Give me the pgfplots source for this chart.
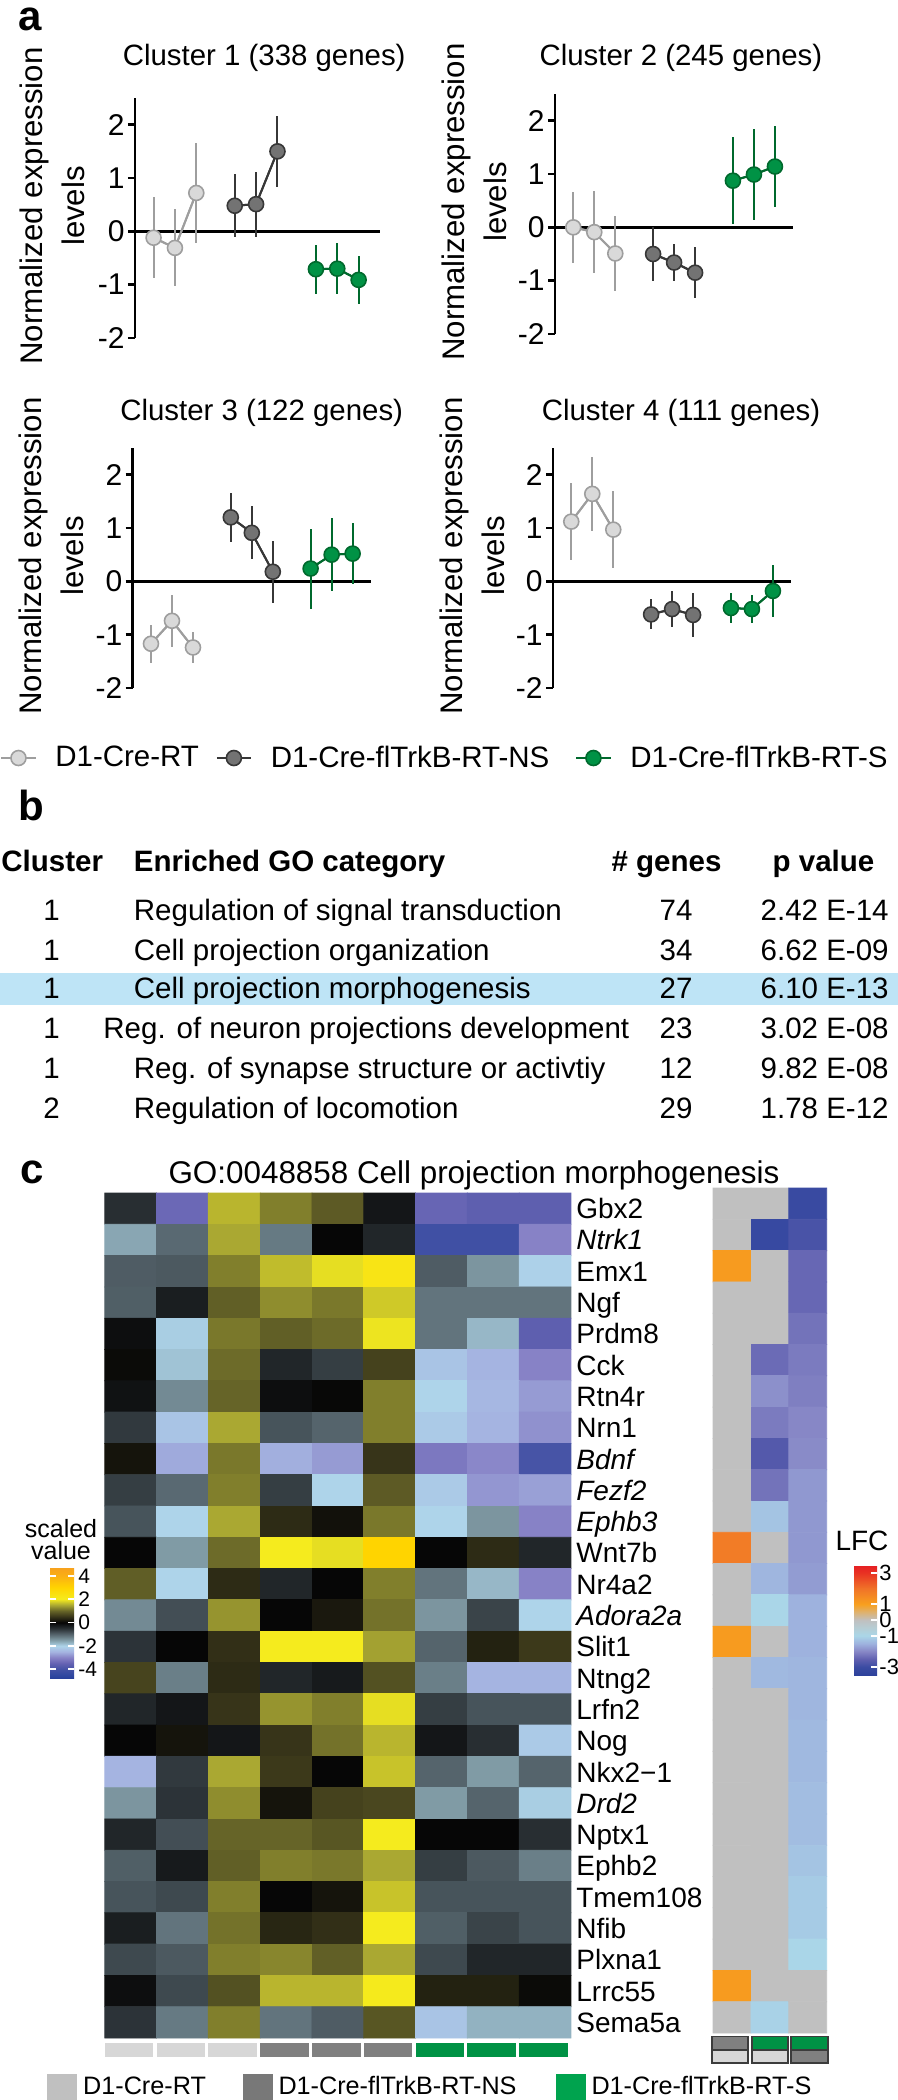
\documentclass[border=0pt]{standalone}
\usepackage{fontspec}
\setmainfont{Liberation Sans}[Ligatures=CommonOff]
\usepackage{pgfplots}
\pgfplotsset{compat=1.18}
\newcommand\fs[1]{\fontsize{#1}{#1}\selectfont}
\definecolor{ltfill}{RGB}{217,217,217}
\definecolor{ltline}{RGB}{158,158,158}
\definecolor{dkfill}{RGB}{115,115,115}
\definecolor{dkline}{RGB}{55,55,55}
\definecolor{gnfill}{RGB}{0,146,69}
\definecolor{gnline}{RGB}{0,105,45}
\definecolor{hl}{RGB}{190,228,246}
\definecolor{rtbar}{RGB}{215,215,215}
\definecolor{nsbar}{RGB}{128,128,128}
\definecolor{sbar}{RGB}{0,146,69}
\definecolor{rtleg}{RGB}{192,192,192}
\definecolor{nsleg}{RGB}{120,120,120}
\definecolor{sleg}{RGB}{0,163,78}
\definecolor{boxline}{RGB}{60,60,60}
\pgfplotsset{
 colormap={scaled}{
  rgb255(0pt)=(40,65,155)
  rgb255(1pt)=(48,72,160)
  rgb255(3pt)=(68,82,165)
  rgb255(5pt)=(100,98,178)
  rgb255(7pt)=(135,130,198)
  rgb255(9pt)=(165,180,225)
  rgb255(11pt)=(174,212,234)
  rgb255(13pt)=(128,155,165)
  rgb255(15pt)=(85,100,108)
  rgb255(17pt)=(40,46,50)
  rgb255(19pt)=(6,6,6)
  rgb255(21pt)=(55,52,25)
  rgb255(23pt)=(102,100,40)
  rgb255(25pt)=(170,168,50)
  rgb255(27pt)=(245,235,30)
  rgb255(31pt)=(255,212,0)
  rgb255(35pt)=(250,175,20)
  rgb255(38pt)=(247,160,30)
 },
 colormap={lfc}{
  rgb255(0pt)=(45,65,155)
  rgb255(1pt)=(58,75,162)
  rgb255(2pt)=(95,95,175)
  rgb255(3pt)=(135,135,198)
  rgb255(4pt)=(158,178,222)
  rgb255(5pt)=(170,214,232)
  rgb255(6pt)=(182,205,212)
  rgb255(7pt)=(192,192,192)
  rgb255(8pt)=(222,178,112)
  rgb255(9pt)=(248,160,30)
  rgb255(11pt)=(240,115,40)
  rgb255(13pt)=(232,50,35)
  rgb255(14pt)=(230,30,35)
 },
 clusterax/.style={
  scale only axis, width=119pt, height=120pt,
  xmin=-0.87, xmax=10.46, ymin=-2, ymax=2.5,
  axis y line=left, axis x line=none,
  axis line style={-, line width=1.35pt},
  ytick={-2,-1,0,1,2}, yticklabels={-2,-1,0,1,2},
  tick align=outside, major tick length=3.5pt,
  major tick style={line width=1.35pt, black},
  yticklabel style={font=\fs{15}, inner sep=1.5pt},
  ylabel={Normalized expression\\levels},
  every axis y label/.style={at={(axis description cs:-0.34,0.55)}, rotate=90, anchor=center, align=center, font=\fontsize{15.6}{21}\selectfont},
  every axis title/.style={anchor=center, font=\fs{14.7}},
  clip=false,
 },
 ebar/.style={color=#1, line width=1pt, mark=none, forget plot,
   error bars/.cd, y dir=both, y explicit, error mark=none,
   error bar style={line width=1pt, color=#1}},
 mk/.style n args={2}{color=#2, line width=1pt, mark=*, mark size=3.75pt,
   mark options={fill=#1, draw=#2, line width=0.8pt, solid}},
}
\begin{document}
\begin{tikzpicture}
\useasboundingbox (0,0) rectangle (449pt,-1050pt);
% ---------- panel labels
\node[anchor=base west, inner sep=0pt, font=\bfseries\fs{21}] at (9pt,-15pt) {a};
\node[anchor=base west, inner sep=0pt, font=\bfseries\fs{21}] at (9pt,-410pt) {b};
\node[anchor=base west, inner sep=0pt, font=\bfseries\fs{21}] at (10pt,-591.5pt) {c};

% ---------- Cluster 1
\begin{axis}[clusterax, width=121pt, at={(67.5pt,-169pt)}, anchor=south west,
  title={Cluster 1 (338 genes)}, title style={at={(0.534,1.167)}}]
\addplot[black, line width=1.35pt, forget plot] coordinates {(-0.87,0) (10.6,0)};
\addplot[ebar=ltline] coordinates {(0,-0.12) +- (0,0.76) (1,-0.31) +- (0,0.72) (2,0.72) +- (0,0.93)};
\addplot[ebar=dkline] coordinates {(3.8,0.48) +- (0,0.59) (4.8,0.51) +- (0,0.61) (5.8,1.50) +- (0,0.66)};
\addplot[ebar=gnline] coordinates {(7.6,-0.71) +- (0,0.46) (8.6,-0.70) +- (0,0.48) (9.6,-0.91) +- (0,0.45)};
\addplot[mk={ltfill}{ltline}] coordinates {(0,-0.12) (1,-0.31) (2,0.72)};
\addplot[mk={dkfill}{dkline}] coordinates {(3.8,0.48) (4.8,0.51) (5.8,1.50)};
\addplot[mk={gnfill}{gnline}] coordinates {(7.6,-0.71) (8.6,-0.70) (9.6,-0.91)};
\end{axis}

% ---------- Cluster 2
\begin{axis}[clusterax, at={(277.5pt,-167pt)}, anchor=south west,
  title={Cluster 2 (245 genes)}, title style={at={(0.529,1.15)}}]
\addplot[black, line width=1.35pt, forget plot] coordinates {(-0.87,0) (10.46,0)};
\addplot[ebar=ltline] coordinates {(0,0.0) +- (0,0.67) (1,-0.09) +- (0,0.77) (2,-0.49) +- (0,0.71)};
\addplot[ebar=dkline] coordinates {(3.8,-0.5) +- (0,0.51) (4.8,-0.66) +- (0,0.35) (5.8,-0.85) +- (0,0.48)};
\addplot[ebar=gnline] coordinates {(7.6,0.875) +- (0,0.81) (8.6,0.99) +- (0,0.86) (9.6,1.14) +- (0,0.76)};
\addplot[mk={ltfill}{ltline}] coordinates {(0,0.0) (1,-0.09) (2,-0.49)};
\addplot[mk={dkfill}{dkline}] coordinates {(3.8,-0.5) (4.8,-0.66) (5.8,-0.85)};
\addplot[mk={gnfill}{gnline}] coordinates {(7.6,0.875) (8.6,0.99) (9.6,1.14)};
\end{axis}

% ---------- Cluster 3
\begin{axis}[clusterax, at={(66.35pt,-344pt)}, anchor=south west,
  title={Cluster 3 (122 genes)}, title style={at={(0.542,1.146)}},
  legend columns=3,
  legend style={at={(-0.5576,-0.2917)}, anchor=west, draw=none, fill=none, inner sep=0pt,
    font=\fs{14.75}, nodes={inner sep=0pt},
    /tikz/column 1/.style={column sep=9.4pt},
    /tikz/column 2/.style={column sep=8.4pt},
    /tikz/column 3/.style={column sep=9.4pt},
    /tikz/column 4/.style={column sep=13pt},
    /tikz/column 5/.style={column sep=9.4pt}}]
\addplot[black, line width=1.35pt, forget plot] coordinates {(-0.87,0) (10.46,0)};
\addplot[ebar=ltline] coordinates {(0,-1.17) +- (0,0.36) (1,-0.74) +- (0,0.49) (2,-1.24) +- (0,0.29)};
\addplot[ebar=dkline] coordinates {(3.8,1.2) +- (0,0.46) (4.8,0.91) +- (0,0.5) (5.8,0.18) +- (0,0.58)};
\addplot[ebar=gnline] coordinates {(7.6,0.24) +- (0,0.75) (8.6,0.5) +- (0,0.68) (9.6,0.52) +- (0,0.57)};
\addplot[mk={ltfill}{ltline}] coordinates {(0,-1.17) (1,-0.74) (2,-1.24)};
\addplot[mk={dkfill}{dkline}] coordinates {(3.8,1.2) (4.8,0.91) (5.8,0.18)};
\addplot[mk={gnfill}{gnline}] coordinates {(7.6,0.24) (8.6,0.5) (9.6,0.52)};
\legend{D1-Cre-RT, D1-Cre-flTrkB-RT-NS, D1-Cre-flTrkB-RT-S}
\end{axis}

% ---------- Cluster 4
\begin{axis}[clusterax, at={(276.5pt,-344pt)}, anchor=south west,
  title={Cluster 4 (111 genes)}, title style={at={(0.538,1.146)}}]
\addplot[black, line width=1.35pt, forget plot] coordinates {(-0.87,0) (10.46,0)};
\addplot[ebar=ltline] coordinates {(0,1.12) +- (0,0.72) (1,1.64) +- (0,0.69) (2,0.97) +- (0,0.72)};
\addplot[ebar=dkline] coordinates {(3.8,-0.62) +- (0,0.28) (4.8,-0.52) +- (0,0.33) (5.8,-0.63) +- (0,0.41)};
\addplot[ebar=gnline] coordinates {(7.6,-0.5) +- (0,0.28) (8.6,-0.52) +- (0,0.27) (9.6,-0.18) +- (0,0.49)};
\addplot[mk={ltfill}{ltline}] coordinates {(0,1.12) (1,1.64) (2,0.97)};
\addplot[mk={dkfill}{dkline}] coordinates {(3.8,-0.62) (4.8,-0.52) (5.8,-0.63)};
\addplot[mk={gnfill}{gnline}] coordinates {(7.6,-0.5) (8.6,-0.52) (9.6,-0.18)};
\end{axis}

% ---------- panel b table
\fill[hl] (0pt,-486.5pt) rectangle (449pt,-502.5pt);
\begin{scope}[every node/.style={inner sep=0pt, font=\fs{14.75}}]
\node[anchor=base west, font=\bfseries\fs{14.75}] at (0.5pt,-435.5pt) {Cluster};
\node[anchor=base west, font=\bfseries\fs{14.75}] at (66.75pt,-435.5pt) {Enriched GO category};
\node[anchor=base, font=\bfseries\fs{14.75}] at (333.25pt,-435.5pt) {\# genes};
\node[anchor=base, font=\bfseries\fs{14.75}] at (411.75pt,-435.5pt) {p value};
\node[anchor=base] at (25.75pt,-460.25pt) {1};
\node[anchor=base west] at (66.75pt,-460.25pt) {Regulation of signal transduction};
\node[anchor=base] at (338pt,-460.25pt) {74};
\node[anchor=base east] at (444.5pt,-460.25pt) {2.42 E-14};
\node[anchor=base] at (25.75pt,-480.25pt) {1};
\node[anchor=base west] at (66.75pt,-480.25pt) {Cell projection organization};
\node[anchor=base] at (338pt,-480.25pt) {34};
\node[anchor=base east] at (444.5pt,-480.25pt) {6.62 E-09};
\node[anchor=base] at (25.75pt,-499.25pt) {1};
\node[anchor=base west] at (66.75pt,-499.25pt) {Cell projection morphogenesis};
\node[anchor=base] at (338pt,-499.25pt) {27};
\node[anchor=base east] at (444.5pt,-499.25pt) {6.10 E-13};
\node[anchor=base] at (25.75pt,-519.25pt) {1};
\node[anchor=base west] at (51.5pt,-519.25pt) {Reg. of neuron projections development};
\node[anchor=base] at (338pt,-519.25pt) {23};
\node[anchor=base east] at (444.5pt,-519.25pt) {3.02 E-08};
\node[anchor=base] at (25.75pt,-539.25pt) {1};
\node[anchor=base west] at (66.75pt,-539.25pt) {Reg. of synapse structure or activtiy};
\node[anchor=base] at (338pt,-539.25pt) {12};
\node[anchor=base east] at (444.5pt,-539.25pt) {9.82 E-08};
\node[anchor=base] at (25.75pt,-559.25pt) {2};
\node[anchor=base west] at (66.75pt,-559.25pt) {Regulation of locomotion};
\node[anchor=base] at (338pt,-559.25pt) {29};
\node[anchor=base east] at (444.5pt,-559.25pt) {1.78 E-12};
% panel c texts
\node[anchor=base, font=\fs{15.7}] at (237pt,-591.5pt) {GO:0048858 Cell projection morphogenesis};
\node[anchor=base, font=\fs{12.5}] at (30.5pt,-768.5pt) {scaled};
\node[anchor=base, font=\fs{12.5}] at (30.5pt,-779.5pt) {value};
\node[anchor=base, font=\fs{14}] at (431pt,-775pt) {LFC};
\end{scope}

% ---------- main heatmap
\begin{axis}[at={(52.4pt,-596.5pt)}, anchor=north west, scale only axis,
  width=233.1pt, height=422.5pt,
  xmin=0.5, xmax=9.5, ymin=0.5, ymax=27.5, y dir=reverse,
  axis line style={draw=none}, xtick=\empty,
  ytick={1,...,27},
  yticklabels={Gbx2,\textit{Ntrk1},Emx1,Ngf,Prdm8,Cck,Rtn4r,Nrn1,\textit{Bdnf},\textit{Fezf2},\textit{Ephb3},Wnt7b,Nr4a2,\textit{Adora2a},Slit1,Ntng2,Lrfn2,Nog,Nkx2−1,\textit{Drd2},Nptx1,Ephb2,Tmem108,Nfib,Plxna1,Lrrc55,Sema5a},
  yticklabel pos=right, major tick length=0pt, ytick style={draw=none},
  yticklabel style={font=\fs{14}, anchor=base west, yshift=-5pt, inner sep=0pt, xshift=2.5pt},
  clip=false,
  colormap name=scaled, point meta min=-4.75, point meta max=4.75,
  colorbar,
  colorbar style={
    at={(parent axis.north west)}, anchor=north west, xshift=-35.9pt, yshift=-187pt,
    scale only axis, width=12pt, height=55.5pt, y dir=normal,
    ytick={-4,-2,0,2,4}, yticklabels={-4,-2,0,2,4},
    ytick pos=both, yticklabel pos=right,
    tick align=inside, major tick length=3pt,
    major tick style={white, line width=0.9pt},
    axis line style={draw=none},
    yticklabel style={font=\fs{10.5}, inner sep=2pt, anchor=west, yshift=0pt, xshift=0pt},
  },
  legend columns=3,
  legend style={at={(-0.124,-0.058)}, anchor=west, draw=none, fill=none, inner sep=0pt,
    font=\fs{12.6}, nodes={inner sep=0pt},
    /tikz/column 1/.style={column sep=3pt},
    /tikz/column 2/.style={column sep=18.4pt},
    /tikz/column 3/.style={column sep=3pt},
    /tikz/column 4/.style={column sep=19.6pt},
    /tikz/column 5/.style={column sep=3pt}},
]
\addplot[matrix plot*, mesh/cols=9, point meta=explicit, forget plot] coordinates {
(1,1) [-0.5] (2,1) [-3.4] (3,1) [1.6] (4,1) [1.2] (5,1) [0.9] (6,1) [-0.2] (7,1) [-3.45] (8,1) [-3.6] (9,1) [-3.6]
(1,2) [-1.6] (2,2) [-1.05] (3,2) [1.5] (4,2) [-1.2] (5,2) [0] (6,2) [-0.4] (7,2) [-4.1] (8,2) [-4.1] (9,2) [-3.0]
(1,3) [-0.93] (2,3) [-0.9] (3,3) [1.2] (4,3) [1.65] (5,3) [1.9] (6,3) [2.3] (7,3) [-0.93] (8,3) [-1.45] (9,3) [-2.05]
(1,4) [-0.95] (2,4) [-0.3] (3,4) [0.95] (4,4) [1.3] (5,4) [1.15] (6,4) [1.75] (7,4) [-1.15] (8,4) [-1.15] (9,4) [-1.15]
(1,5) [-0.1] (2,5) [-1.95] (3,5) [1.15] (4,5) [0.95] (5,5) [1.05] (6,5) [1.95] (7,5) [-1.15] (8,5) [-1.75] (9,5) [-3.6]
(1,6) [0.05] (2,6) [-1.85] (3,6) [1.05] (4,6) [-0.4] (5,6) [-0.65] (6,6) [0.65] (7,6) [-2.25] (8,6) [-2.5] (9,6) [-3.0]
(1,7) [-0.15] (2,7) [-1.35] (3,7) [1.0] (4,7) [-0.1] (5,7) [0.02] (6,7) [1.2] (7,7) [-2.0] (8,7) [-2.45] (9,7) [-2.75]
(1,8) [-0.6] (2,8) [-2.25] (3,8) [1.5] (4,8) [-0.85] (5,8) [-1.0] (6,8) [1.2] (7,8) [-2.15] (8,8) [-2.5] (9,8) [-2.85]
(1,9) [0.15] (2,9) [-2.6] (3,9) [1.15] (4,9) [-2.55] (5,9) [-2.75] (6,9) [0.5] (7,9) [-3.15] (8,9) [-2.95] (9,9) [-3.95]
(1,10) [-0.65] (2,10) [-1.05] (3,10) [1.2] (4,10) [-0.65] (5,10) [-2.0] (6,10) [0.9] (7,10) [-2.15] (8,10) [-2.8] (9,10) [-2.7]
(1,11) [-0.85] (2,11) [-2.0] (3,11) [1.5] (4,11) [0.4] (5,11) [0.12] (6,11) [1.15] (7,11) [-2.0] (8,11) [-1.45] (9,11) [-3.0]
(1,12) [0] (2,12) [-1.5] (3,12) [1.05] (4,12) [2.0] (5,12) [1.9] (6,12) [3.0] (7,12) [0] (8,12) [0.4] (9,12) [-0.4]
(1,13) [0.94] (2,13) [-2.0] (3,13) [0.4] (4,13) [-0.4] (5,13) [0] (6,13) [1.2] (7,13) [-1.15] (8,13) [-1.75] (9,13) [-3.0]
(1,14) [-1.35] (2,14) [-0.8] (3,14) [1.35] (4,14) [0] (5,14) [0.2] (6,14) [1.1] (7,14) [-1.45] (8,14) [-0.7] (9,14) [-2.0]
(1,15) [-0.55] (2,15) [0] (3,15) [0.45] (4,15) [2.0] (5,15) [2.0] (6,15) [1.45] (7,15) [-1.0] (8,15) [0.3] (9,15) [0.55]
(1,16) [0.67] (2,16) [-1.25] (3,16) [0.4] (4,16) [-0.4] (5,16) [-0.25] (6,16) [0.8] (7,16) [-1.25] (8,16) [-2.5] (9,16) [-2.5]
(1,17) [-0.4] (2,17) [-0.2] (3,17) [0.5] (4,17) [1.35] (5,17) [1.2] (6,17) [1.9] (7,17) [-0.65] (8,17) [-0.85] (9,17) [-0.85]
(1,18) [0] (2,18) [0.15] (3,18) [-0.2] (4,18) [0.5] (5,18) [1.1] (6,18) [1.6] (7,18) [-0.2] (8,18) [-0.5] (9,18) [-2.15]
(1,19) [-2.5] (2,19) [-0.6] (3,19) [1.5] (4,19) [0.55] (5,19) [0] (6,19) [1.7] (7,19) [-1.0] (8,19) [-1.5] (9,19) [-1.0]
(1,20) [-1.45] (2,20) [-0.55] (3,20) [1.3] (4,20) [0.15] (5,20) [0.65] (6,20) [0.7] (7,20) [-1.5] (8,20) [-1.0] (9,20) [-1.95]
(1,21) [-0.4] (2,21) [-0.8] (3,21) [1.0] (4,21) [1.0] (5,21) [0.85] (6,21) [2.0] (7,21) [0] (8,21) [0] (9,21) [-0.5]
(1,22) [-0.95] (2,22) [-0.25] (3,22) [0.95] (4,22) [1.2] (5,22) [1.15] (6,22) [1.5] (7,22) [-0.65] (8,22) [-0.9] (9,22) [-1.25]
(1,23) [-0.85] (2,23) [-0.75] (3,23) [1.2] (4,23) [0] (5,23) [0.15] (6,23) [1.7] (7,23) [-0.85] (8,23) [-0.85] (9,23) [-0.85]
(1,24) [-0.3] (2,24) [-1.15] (3,24) [1.1] (4,24) [0.35] (5,24) [0.45] (6,24) [2.0] (7,24) [-0.95] (8,24) [-0.7] (9,24) [-0.85]
(1,25) [-0.75] (2,25) [-0.9] (3,25) [1.2] (4,25) [1.25] (5,25) [0.95] (6,25) [1.5] (7,25) [-0.75] (8,25) [-0.4] (9,25) [-0.4]
(1,26) [-0.1] (2,26) [-0.75] (3,26) [0.8] (4,26) [1.6] (5,26) [1.6] (6,26) [2.05] (7,26) [0.3] (8,26) [0.3] (9,26) [0.05]
(1,27) [-0.55] (2,27) [-1.2] (3,27) [1.2] (4,27) [-1.15] (5,27) [-0.93] (6,27) [0.85] (7,27) [-2.25] (8,27) [-1.7] (9,27) [-1.7]
};
\fill[rtbar] (axis cs:0.5,27.66) rectangle (axis cs:1.44,28.1);
\fill[rtbar] (axis cs:1.5,27.66) rectangle (axis cs:2.44,28.1);
\fill[rtbar] (axis cs:2.5,27.66) rectangle (axis cs:3.44,28.1);
\fill[nsbar] (axis cs:3.5,27.66) rectangle (axis cs:4.44,28.1);
\fill[nsbar] (axis cs:4.5,27.66) rectangle (axis cs:5.44,28.1);
\fill[nsbar] (axis cs:5.5,27.66) rectangle (axis cs:6.44,28.1);
\fill[sbar] (axis cs:6.5,27.66) rectangle (axis cs:7.44,28.1);
\fill[sbar] (axis cs:7.5,27.66) rectangle (axis cs:8.44,28.1);
\fill[sbar] (axis cs:8.5,27.66) rectangle (axis cs:9.44,28.1);
\addlegendimage{legend image code/.code={\fill[rtleg] (0pt,-6.25pt) rectangle (14.5pt,6.25pt);}}
\addlegendentry{D1-Cre-RT}
\addlegendimage{legend image code/.code={\fill[nsleg] (0pt,-6.25pt) rectangle (14.5pt,6.25pt);}}
\addlegendentry{D1-Cre-flTrkB-RT-NS}
\addlegendimage{legend image code/.code={\fill[sleg] (0pt,-6.25pt) rectangle (14.5pt,6.25pt);}}
\addlegendentry{D1-Cre-flTrkB-RT-S}
\end{axis}

% ---------- LFC heatmap
\begin{axis}[at={(356.5pt,-594pt)}, anchor=north west, scale only axis,
  width=56.85pt, height=422.5pt,
  xmin=0.5, xmax=3.5, ymin=0.5, ymax=27.5, y dir=reverse,
  axis line style={draw=none}, xtick=\empty, ytick=\empty,
  clip=false,
  colormap name=lfc, point meta min=-3.5, point meta max=3.5,
  colorbar,
  colorbar style={
    at={(parent axis.north west)}, anchor=north west, xshift=62pt, yshift=-188.5pt,
    scale only axis, width=11.5pt, height=55pt, y dir=normal,
    ytick={-3,-1,0,1,3}, yticklabels={-3,-1,0,1,3},
    ytick pos=right, yticklabel pos=right,
    tick align=inside, major tick length=3pt,
    major tick style={white, line width=0.9pt},
    axis line style={draw=none},
    yticklabel style={font=\fs{11}, inner sep=1pt},
  },
]
\addplot[matrix plot*, mesh/cols=3, point meta=explicit] coordinates {
(1,1) [0] (2,1) [0] (3,1) [-3.05]
(1,2) [0] (2,2) [-3.1] (3,2) [-2.8]
(1,3) [1.1] (2,3) [0] (3,3) [-2.4]
(1,4) [0] (2,4) [0] (3,4) [-2.4]
(1,5) [0] (2,5) [0] (3,5) [-2.25]
(1,6) [0] (2,6) [-2.35] (3,6) [-2.15]
(1,7) [0] (2,7) [-1.9] (3,7) [-2.1]
(1,8) [0] (2,8) [-2.15] (3,8) [-2.0]
(1,9) [0] (2,9) [-2.65] (3,9) [-1.95]
(1,10) [0] (2,10) [-2.25] (3,10) [-1.8]
(1,11) [0] (2,11) [-1.25] (3,11) [-1.8]
(1,12) [1.8] (2,12) [0] (3,12) [-1.8]
(1,13) [0] (2,13) [-1.45] (3,13) [-1.75]
(1,14) [0] (2,14) [-1.0] (3,14) [-1.5]
(1,15) [1.1] (2,15) [0] (3,15) [-1.5]
(1,16) [0] (2,16) [-1.4] (3,16) [-1.45]
(1,17) [0] (2,17) [0] (3,17) [-1.45]
(1,18) [0] (2,18) [0] (3,18) [-1.4]
(1,19) [0] (2,19) [0] (3,19) [-1.4]
(1,20) [0] (2,20) [0] (3,20) [-1.35]
(1,21) [0] (2,21) [0] (3,21) [-1.35]
(1,22) [0] (2,22) [0] (3,22) [-1.25]
(1,23) [0] (2,23) [0] (3,23) [-1.15]
(1,24) [0] (2,24) [0] (3,24) [-1.15]
(1,25) [0] (2,25) [0] (3,25) [-1.0]
(1,26) [1.1] (2,26) [0] (3,26) [0]
(1,27) [0] (2,27) [-1.05] (3,27) [0]
};
\fill[nsbar] (axis cs:0.47,27.62) rectangle (axis cs:1.42,28.04);
\fill[rtbar] (axis cs:0.47,28.04) rectangle (axis cs:1.42,28.46);
\fill[sbar] (axis cs:1.53,27.62) rectangle (axis cs:2.48,28.04);
\fill[rtbar] (axis cs:1.53,28.04) rectangle (axis cs:2.48,28.46);
\fill[sbar] (axis cs:2.56,27.62) rectangle (axis cs:3.53,28.04);
\fill[nsbar] (axis cs:2.56,28.04) rectangle (axis cs:3.53,28.46);
\draw[boxline, line width=0.7pt] (axis cs:0.47,27.62) rectangle (axis cs:1.42,28.46) (axis cs:0.47,28.04) -- (axis cs:1.42,28.04);
\draw[boxline, line width=0.7pt] (axis cs:1.53,27.62) rectangle (axis cs:2.48,28.46) (axis cs:1.53,28.04) -- (axis cs:2.48,28.04);
\draw[boxline, line width=0.7pt] (axis cs:2.56,27.62) rectangle (axis cs:3.53,28.46) (axis cs:2.56,28.04) -- (axis cs:3.53,28.04);
\end{axis}
\end{tikzpicture}
\end{document}
